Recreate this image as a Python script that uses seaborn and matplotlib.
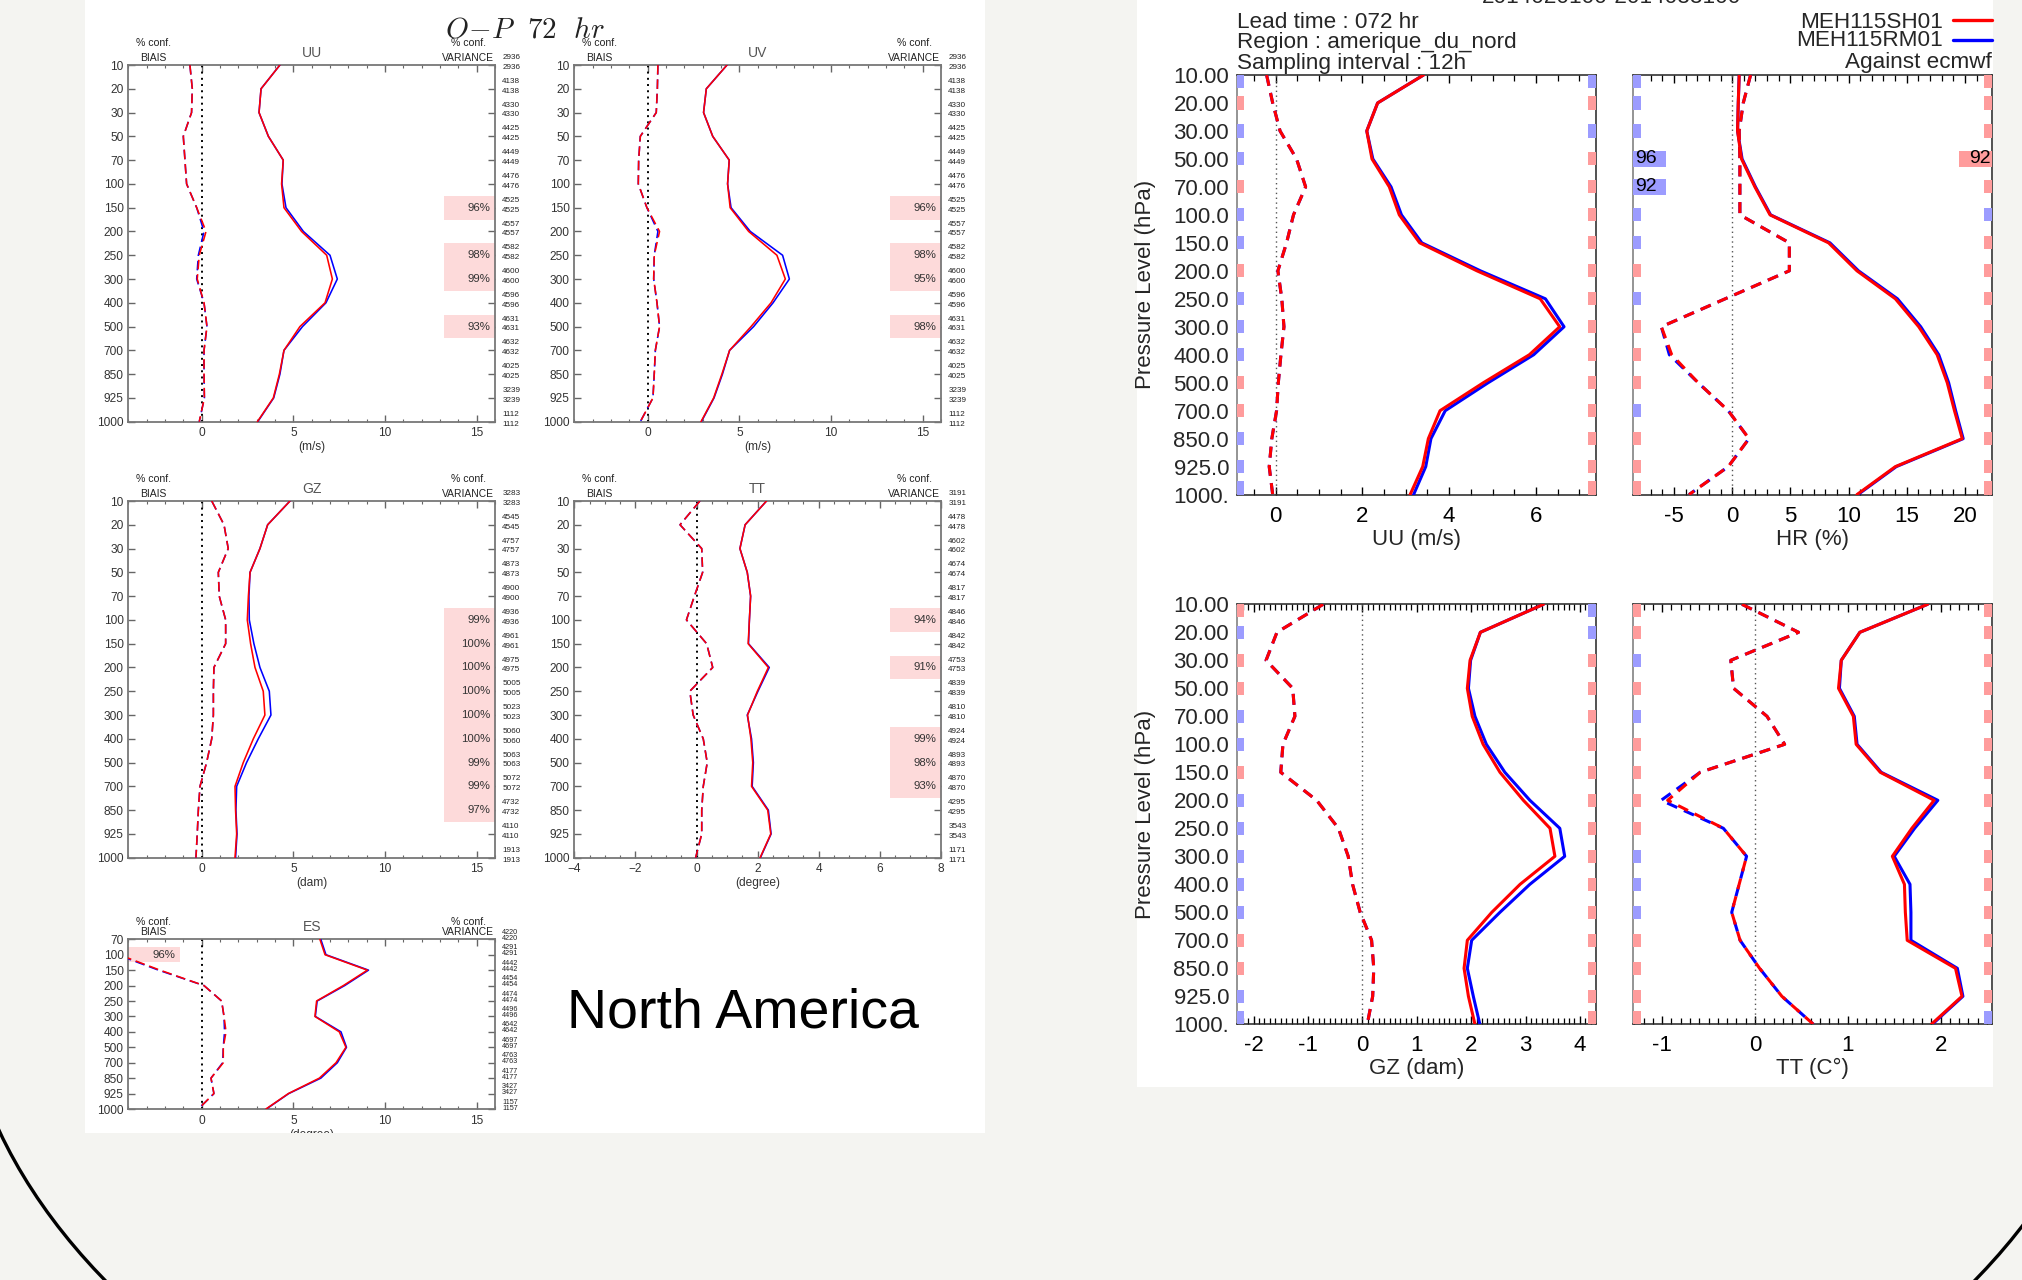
import numpy as np
import matplotlib
matplotlib.use("Agg")
import matplotlib.pyplot as plt
import seaborn as sns
from matplotlib.patches import Rectangle, Arc
from matplotlib.lines import Line2D
from matplotlib.ticker import MultipleLocator, FixedLocator

# ---------------------------------------------------------------- data
levels = [10, 20, 30, 50, 70, 100, 150, 200, 250, 300, 400, 500, 700, 850, 925, 1000]
es_levels = [70, 100, 150, 200, 250, 300, 400, 500, 700, 850, 925, 1000]
rt_level_labels = ["10.00", "20.00", "30.00", "50.00", "70.00", "100.0", "150.0", "200.0",
                   "250.0", "300.0", "400.0", "500.0", "700.0", "850.0", "925.0", "1000."]

# --- left block : O-P 72 hr
op_uu_std_red = [4.27, 3.24, 3.13, 3.64, 4.45, 4.36, 4.49, 5.45, 6.82, 7.13, 6.73, 5.36, 4.49, 4.24, 3.91, 3.04]
op_uu_std_blue = [4.27, 3.24, 3.13, 3.64, 4.45, 4.38, 4.60, 5.55, 7.00, 7.40, 6.78, 5.50, 4.49, 4.27, 3.93, 3.06]
op_uu_bias_red = [-0.64, -0.51, -0.55, -1.00, -0.91, -0.82, -0.27, 0.24, -0.13, -0.24, 0.13, 0.29, 0.13, 0.13, 0.15, -0.13]
op_uu_bias_blue = [-0.64, -0.51, -0.55, -1.00, -0.91, -0.82, -0.27, 0.13, -0.18, -0.27, 0.13, 0.29, 0.13, 0.13, 0.15, -0.13]
op_uu_counts = [2936, 4138, 4330, 4425, 4449, 4476, 4525, 4557, 4582, 4600, 4596, 4631, 4632, 4025, 3239, 1112]
op_uu_var_conf = [0, 0, 0, 0, 0, 0, 96, 0, 98, 99, 0, 93, 0, 0, 0, 0]

op_uv_std_red = [4.33, 3.20, 3.05, 3.55, 4.45, 4.36, 4.50, 5.51, 7.05, 7.51, 6.73, 5.64, 4.47, 4.05, 3.60, 2.91]
op_uv_std_blue = [4.33, 3.20, 3.05, 3.55, 4.45, 4.36, 4.55, 5.60, 7.36, 7.73, 6.84, 5.78, 4.47, 4.08, 3.62, 2.93]
op_uv_bias_red = [0.56, 0.53, 0.47, -0.40, -0.49, -0.51, -0.04, 0.65, 0.36, 0.33, 0.51, 0.65, 0.42, 0.36, 0.29, -0.40]
op_uv_bias_blue = [0.56, 0.53, 0.47, -0.40, -0.49, -0.51, -0.04, 0.56, 0.36, 0.33, 0.51, 0.65, 0.42, 0.36, 0.29, -0.40]
op_uv_counts = [2936, 4138, 4330, 4425, 4449, 4476, 4525, 4557, 4582, 4600, 4596, 4631, 4632, 4025, 3239, 1112]
op_uv_var_conf = [0, 0, 0, 0, 0, 0, 96, 0, 98, 95, 0, 98, 0, 0, 0, 0]

op_gz_std_red = [4.82, 3.60, 3.18, 2.64, 2.55, 2.49, 2.67, 2.91, 3.36, 3.45, 2.82, 2.27, 1.82, 1.85, 1.91, 1.82]
op_gz_std_blue = [4.82, 3.60, 3.18, 2.64, 2.58, 2.60, 2.85, 3.18, 3.69, 3.78, 3.09, 2.45, 1.91, 1.87, 1.93, 1.85]
op_gz_bias_red = [0.55, 1.22, 1.45, 0.91, 0.96, 1.31, 1.31, 0.67, 0.64, 0.64, 0.55, 0.27, -0.09, -0.18, -0.24, -0.31]
op_gz_bias_blue = [0.55, 1.22, 1.45, 0.91, 0.96, 1.31, 1.31, 0.67, 0.64, 0.64, 0.55, 0.27, -0.09, -0.18, -0.24, -0.31]
op_gz_counts = [3283, 4545, 4757, 4873, 4900, 4936, 4961, 4975, 5005, 5023, 5060, 5063, 5072, 4732, 4110, 1913]
op_gz_var_conf = [0, 0, 0, 0, 0, 99, 100, 100, 100, 100, 100, 99, 99, 97, 0, 0]

op_tt_std_red = [2.29, 1.59, 1.42, 1.66, 1.77, 1.73, 1.69, 2.35, 1.99, 1.67, 1.78, 1.84, 1.80, 2.33, 2.43, 2.08]
op_tt_std_blue = [2.29, 1.59, 1.42, 1.66, 1.77, 1.73, 1.70, 2.38, 2.01, 1.66, 1.80, 1.86, 1.82, 2.35, 2.44, 2.09]
op_tt_bias_red = [0.11, -0.54, 0.17, 0.20, -0.07, -0.33, 0.33, 0.53, -0.22, -0.11, 0.22, 0.35, 0.22, 0.17, 0.17, -0.03]
op_tt_bias_blue = [0.11, -0.54, 0.17, 0.20, -0.07, -0.33, 0.33, 0.53, -0.22, -0.11, 0.22, 0.35, 0.22, 0.17, 0.17, -0.03]
op_tt_counts = [3191, 4478, 4602, 4674, 4817, 4846, 4842, 4753, 4839, 4810, 4924, 4893, 4870, 4295, 3543, 1171]
op_tt_var_conf = [0, 0, 0, 0, 0, 94, 0, 91, 0, 0, 99, 98, 93, 0, 0, 0]

op_es_std_red = [6.45, 6.73, 9.04, 7.73, 6.27, 6.18, 7.51, 7.87, 7.33, 6.42, 4.73, 3.51]
op_es_std_blue = [6.50, 6.78, 9.10, 7.80, 6.30, 6.20, 7.60, 7.90, 7.40, 6.50, 4.75, 3.53]
op_es_bias_red = [-6.5, -4.5, -2.27, 0.13, 1.09, 1.22, 1.33, 1.18, 1.18, 0.51, 0.67, -0.18]
op_es_bias_blue = [-6.5, -4.6, -2.35, 0.13, 1.09, 1.22, 1.25, 1.18, 1.15, 0.51, 0.67, -0.18]
op_es_counts = [4220, 4291, 4442, 4454, 4474, 4496, 4642, 4697, 4763, 4177, 3427, 1157]
op_es_var_conf = [0, 0, 0, 0, 0, 0, 0, 0, 0, 0, 0, 0]
op_es_bias_conf = [0, 96, 0, 0, 0, 0, 0, 0, 0, 0, 0, 0]

# --- right block : against ecmwf
rt_uu_std_red = [3.41, 2.35, 2.10, 2.22, 2.62, 2.85, 3.32, 4.64, 6.10, 6.55, 5.85, 4.79, 3.79, 3.52, 3.39, 3.10]
rt_uu_std_blue = [3.41, 2.35, 2.10, 2.24, 2.66, 2.90, 3.37, 4.72, 6.22, 6.65, 5.95, 4.90, 3.91, 3.58, 3.46, 3.18]
rt_uu_bias_red = [-0.21, -0.07, 0.10, 0.48, 0.69, 0.41, 0.25, 0.05, 0.14, 0.19, 0.12, 0.06, 0.02, -0.09, -0.15, -0.07]
rt_uu_bias_blue = [-0.21, -0.07, 0.10, 0.48, 0.69, 0.41, 0.25, 0.05, 0.14, 0.19, 0.12, 0.06, 0.02, -0.09, -0.15, -0.07]
rt_uu_left_cols = list("brbbrbbrbbbrrbbb")
rt_uu_right_cols = list("brbrrrrrrrrrrrrr")

rt_hr_std_red = [0.60, 0.52, 0.46, 0.80, 1.95, 3.25, 8.28, 10.72, 14.02, 16.03, 17.61, 18.48, 19.10, 19.77, 14.02, 10.72]
rt_hr_std_blue = [0.60, 0.52, 0.46, 0.85, 2.00, 3.30, 8.40, 10.85, 14.20, 16.20, 17.75, 18.60, 19.20, 19.85, 14.10, 10.80]
rt_hr_bias_red = [1.58, 0.95, 0.60, 0.66, 0.66, 0.66, 4.91, 4.91, -0.60, -6.09, -5.20, -2.93, -0.34, 1.44, -0.34, -3.71]
rt_hr_bias_blue = [1.58, 0.95, 0.60, 0.66, 0.66, 0.66, 4.91, 4.91, -0.60, -6.09, -5.40, -2.93, -0.34, 1.44, -0.34, -3.71]
rt_hr_left_cols = list("bbbbbbbrbrrrbrrr")
rt_hr_right_cols = list("rrrrrbrrrrrrrrrr")
rt_hr_left_conf = [0, 0, 0, 96, 92, 0, 0, 0, 0, 0, 0, 0, 0, 0, 0, 0]
rt_hr_right_conf = [0, 0, 0, 92, 0, 0, 0, 0, 0, 0, 0, 0, 0, 0, 0, 0]

rt_gz_std_red = [3.33, 2.17, 1.98, 1.93, 2.02, 2.22, 2.53, 2.96, 3.45, 3.54, 2.90, 2.38, 1.93, 1.87, 1.95, 2.07]
rt_gz_std_blue = [3.33, 2.17, 1.99, 1.95, 2.07, 2.28, 2.62, 3.08, 3.63, 3.72, 3.08, 2.53, 2.01, 1.93, 2.04, 2.16]
rt_gz_bias_red = [-0.72, -1.57, -1.77, -1.28, -1.24, -1.46, -1.50, -0.84, -0.44, -0.26, -0.18, -0.04, 0.17, 0.21, 0.19, 0.09]
rt_gz_bias_blue = [-0.72, -1.57, -1.77, -1.28, -1.24, -1.46, -1.50, -0.84, -0.44, -0.26, -0.18, -0.04, 0.17, 0.21, 0.19, 0.09]
rt_gz_left_cols = list("rbrrbbrbbbbbrrbb")
rt_gz_right_cols = list("bbrrrrrrrrrrrrrr")

rt_tt_std_red = [1.86, 1.13, 0.93, 0.90, 1.06, 1.09, 1.35, 1.93, 1.69, 1.48, 1.61, 1.62, 1.64, 2.16, 2.23, 1.90]
rt_tt_std_blue = [1.86, 1.13, 0.93, 0.91, 1.07, 1.10, 1.36, 1.97, 1.72, 1.50, 1.67, 1.68, 1.68, 2.18, 2.24, 1.91]
rt_tt_bias_red = [-0.14, 0.47, -0.26, -0.23, 0.13, 0.32, -0.59, -0.94, -0.34, -0.09, -0.17, -0.25, -0.16, 0.05, 0.29, 0.63]
rt_tt_bias_blue = [-0.14, 0.47, -0.26, -0.23, 0.13, 0.32, -0.59, -1.01, -0.34, -0.09, -0.17, -0.25, -0.16, 0.05, 0.29, 0.63]
rt_tt_left_cols = list("rrbrbrrrrbbbrrrr")
rt_tt_right_cols = list("rrrrrrrrrrrrrrrb")

exp_names = ["MEH115SH01", "MEH115RM01"]

# ---------------------------------------------------------------- style
sns.set_style("white")
plt.rcParams["font.family"] = ["Liberation Sans", "DejaVu Sans"]
plt.rcParams["mathtext.fontset"] = "cm"

RED = "#ff0000"
BLUE = "#0000ff"
PINKBOX = "#fddada"
STRIP = {"b": "#9c9cff", "r": "#ff9c9c"}
BG = "#f4f4f1"

W, H = 2022, 1280
fig = plt.figure(figsize=(W / 100, H / 100), dpi=100, facecolor=BG)


def fr(x0, y0, x1, y1):
    return [x0 / W, 1 - y1 / H, (x1 - x0) / W, (y1 - y0) / H]


# white backing areas of the two pasted figures
fig.add_artist(Rectangle((85 / W, 1 - 1133 / H), 900 / W, 1133 / H, transform=fig.transFigure,
                         facecolor="white", edgecolor="none", zorder=-10))
fig.add_artist(Rectangle((1137 / W, 1 - 1087 / H), 856 / W, 1087 / H, transform=fig.transFigure,
                         facecolor="white", edgecolor="none", zorder=-10))


def prof(ax, vals, color, ls, lw, z):
    idx = np.arange(len(vals))
    sns.lineplot(x=np.asarray(vals, float), y=idx, orient="y", sort=False, estimator=None,
                 color=color, linestyle=ls, linewidth=lw, ax=ax, zorder=z, legend=False)


def left_panel(box, name, unit, xlim, major, minor, ylabels, std_r, std_b, bias_r, bias_b,
               counts, var_conf, bias_conf=None, compact=False):
    ax = fig.add_axes(fr(*box))
    ax.set_facecolor("white")
    n = len(ylabels)
    rng = xlim[1] - xlim[0]
    bw = 0.14 * rng
    for i, c in enumerate(var_conf):
        if c:
            ax.barh(i, bw, left=xlim[1] - bw, height=1.0, color=PINKBOX, linewidth=0, zorder=1)
            ax.text(xlim[1] - 0.0135 * rng, i, f"{c}%", ha="right", va="center",
                    fontsize=8.2, color="#333333", zorder=2)
    if bias_conf is not None:
        for i, c in enumerate(bias_conf):
            if c:
                ax.barh(i, bw, left=xlim[0], height=1.0, color=PINKBOX, linewidth=0, zorder=1)
                ax.text(xlim[0] + 0.1275 * rng, i, f"{c}%", ha="right", va="center",
                        fontsize=8.2, color="#333333", zorder=2)
    ax.axvline(0, color="black", linestyle=(0, (1, 2.2)), linewidth=1.4, zorder=2)
    dash = (0, (6, 3))
    prof(ax, std_b, BLUE, "-", 1.15, 3)
    prof(ax, std_r, RED, "-", 1.15, 4)
    prof(ax, bias_b, BLUE, dash, 1.15, 3)
    prof(ax, bias_r, RED, dash, 1.15, 4)
    ax.set_xlim(*xlim)
    ax.set_ylim(n - 1, 0)
    ax.set_yticks(np.arange(n))
    ax.set_yticklabels([str(v) for v in ylabels])
    ax.xaxis.set_major_locator(FixedLocator(major))
    ax.xaxis.set_minor_locator(MultipleLocator(minor))
    ax.set_xlabel("")
    ax.set_ylabel("")
    ax.tick_params(axis="both", which="both", direction="in", top=True, bottom=True,
                   left=True, right=True, colors="#666666", labelcolor="#333333")
    ax.tick_params(axis="x", which="major", length=5, width=1, labelsize=8.6, pad=4)
    ax.tick_params(axis="x", which="minor", length=2.5, width=0.8)
    ax.tick_params(axis="y", which="major", length=5, width=1, labelsize=8.6, pad=3.5)
    ax.tick_params(axis="y", which="minor", length=0)
    for s in ax.spines.values():
        s.set_color("#777777")
        s.set_linewidth(1.3)
        s.set_visible(True)
    # sample counts on the right
    offs = (5.0, 0.7) if compact else (5.3, -1.7)
    cfs = 5.2 if compact else 5.9
    for i, c in enumerate(counts):
        for o in offs:
            ax.annotate(str(c), xy=(1.0, i), xycoords=ax.get_yaxis_transform(),
                        xytext=(5.2, o), textcoords="offset points", fontsize=cfs,
                        ha="left", va="center", color="#222222", annotation_clip=False)

    def hdr(x, text, dy, fs, color="#222222"):
        ax.annotate(text, xy=(x, 1.0), xycoords="axes fraction", xytext=(0, dy),
                    textcoords="offset points", ha="center", va="center", fontsize=fs,
                    color=color, annotation_clip=False)
    top_dy = 12.8 if compact else 15.6
    hdr(0.069, "% conf.", top_dy, 7.6)
    hdr(0.069, "BIAIS", 5.3, 7.5)
    hdr(0.928, "% conf.", top_dy, 7.6)
    hdr(0.926, "VARIANCE", 5.3, 7.4)
    hdr(0.5, name, 8.8, 10, color="#555555")
    ax.annotate(unit, xy=(0.5, 0.0), xycoords="axes fraction", xytext=(0, -18.5),
                textcoords="offset points", ha="center", va="center", fontsize=8.6,
                color="#333333", annotation_clip=False)
    return ax


left_panel((128.3, 65, 495, 421.7), "UU", "(m/s)", (-4, 16), [0, 5, 10, 15], 1, levels,
           op_uu_std_red, op_uu_std_blue, op_uu_bias_red, op_uu_bias_blue, op_uu_counts, op_uu_var_conf)
left_panel((574.3, 65, 941, 421.7), "UV", "(m/s)", (-4, 16), [0, 5, 10, 15], 1, levels,
           op_uv_std_red, op_uv_std_blue, op_uv_bias_red, op_uv_bias_blue, op_uv_counts, op_uv_var_conf)
left_panel((128.3, 501, 495, 857.7), "GZ", "(dam)", (-4, 16), [0, 5, 10, 15], 1, levels,
           op_gz_std_red, op_gz_std_blue, op_gz_bias_red, op_gz_bias_blue, op_gz_counts, op_gz_var_conf)
left_panel((574.3, 501, 941, 857.7), "TT", "(degree)", (-4, 8), [-4, -2, 0, 2, 4, 6, 8], 0.5, levels,
           op_tt_std_red, op_tt_std_blue, op_tt_bias_red, op_tt_bias_blue, op_tt_counts, op_tt_var_conf)
left_panel((128.3, 939.3, 495, 1109), "ES", "(degree)", (-4, 16), [0, 5, 10, 15], 1, es_levels,
           op_es_std_red, op_es_std_blue, op_es_bias_red, op_es_bias_blue, op_es_counts, op_es_var_conf,
           bias_conf=op_es_bias_conf, compact=True)

fig.text(525 / W, 1 - 37.3 / H, r"$O\!-\!P\ \ 72\ \ hr$", fontsize=21, ha="center",
         va="baseline", color="#222222")
fig.text(567 / W, 1 - 1027 / H, "North America", fontsize=40, ha="left", va="baseline",
         color="black", family=["Liberation Sans Narrow", "Liberation Sans", "DejaVu Sans"])


# ---------------------------------------------------------------- right block
def right_panel(box, xlabel, xlim, major, minor, std_r, std_b, bias_r, bias_b,
                lcols, rcols, lconf=None, rconf=None, show_y=True):
    ax = fig.add_axes(fr(*box))
    ax.set_facecolor("white")
    n = len(std_r)
    ax.axvline(0, color="#555555", linestyle=(0, (1, 2.5)), linewidth=1.0, zorder=1)
    dash = (0, (3.6, 2.4))
    prof(ax, std_b, BLUE, "-", 2.2, 3)
    prof(ax, std_r, RED, "-", 2.2, 4)
    prof(ax, bias_b, BLUE, dash, 2.2, 3)
    prof(ax, bias_r, RED, dash, 2.2, 4)
    ax.set_xlim(*xlim)
    ax.set_ylim(n - 1, 0)
    tr = ax.get_yaxis_transform()
    sw, sh = 0.0215, 0.47
    for side, cols, conf in ((0, lcols, lconf), (1, rcols, rconf)):
        for i, c in enumerate(cols):
            y0 = min(max(i - sh / 2, 0), n - 1 - sh)
            big = conf is not None and conf[i]
            w = 0.092 if big else sw
            hh = 0.57 if big else sh
            if big:
                y0 = i - hh / 2
            x0 = 0 if side == 0 else 1 - w
            ax.add_patch(Rectangle((x0, y0), w, hh, transform=tr, facecolor=STRIP[c],
                                   edgecolor="none", zorder=5))
            if big:
                if side == 0:
                    ax.text(0.004, i, str(conf[i]), transform=tr, ha="left", va="center",
                            fontsize=14, color="black", zorder=6)
                else:
                    ax.text(0.997, i, str(conf[i]), transform=tr, ha="right", va="center",
                            fontsize=14, color="black", zorder=6)
    ax.set_yticks(np.arange(n))
    ax.set_yticklabels(rt_level_labels)
    ax.xaxis.set_major_locator(FixedLocator(major))
    ax.set_xticklabels([str(v) for v in major])
    ax.xaxis.set_minor_locator(MultipleLocator(minor))
    ax.set_ylabel("")
    ax.tick_params(axis="x", which="both", direction="in", top=True, bottom=True, colors="black")
    ax.tick_params(axis="x", which="major", length=6, width=1, labelsize=16, pad=8)
    ax.tick_params(axis="x", which="minor", length=4, width=0.9)
    ax.tick_params(axis="y", which="both", length=0, left=True, labelsize=16, pad=5.5,
                   labelleft=show_y)
    for s in ax.spines.values():
        s.set_color("#222222")
        s.set_linewidth(1.1)
        s.set_visible(True)
    ax.spines["left"].set_color("#777777")
    ax.set_xlabel(xlabel, fontsize=16)
    ax.xaxis.label.set_va("center")
    ax.xaxis.set_label_coords(0.5, -0.106)
    if show_y:
        ax.set_ylabel("Pressure Level (hPa)", fontsize=16)
        ax.yaxis.label.set_va("center")
        ax.yaxis.set_label_coords(-0.255, 0.5)
    return ax


ax_uu = right_panel((1236.7, 75, 1595.7, 494.6), "UU (m/s)", (-0.9, 7.38), [0, 2, 4, 6], 0.5,
                    rt_uu_std_red, rt_uu_std_blue, rt_uu_bias_red, rt_uu_bias_blue,
                    rt_uu_left_cols, rt_uu_right_cols)
ax_hr = right_panel((1633.3, 75, 1991.7, 494.6), "HR (%)", (-8.5, 22.3), [-5, 0, 5, 10, 15, 20], 1,
                    rt_hr_std_red, rt_hr_std_blue, rt_hr_bias_red, rt_hr_bias_blue,
                    rt_hr_left_cols, rt_hr_right_cols, rt_hr_left_conf, rt_hr_right_conf, show_y=False)
ax_gz = right_panel((1236.7, 604.3, 1595.7, 1024.3), "GZ (dam)", (-2.31, 4.29), [-2, -1, 0, 1, 2, 3, 4], 0.1,
                    rt_gz_std_red, rt_gz_std_blue, rt_gz_bias_red, rt_gz_bias_blue,
                    rt_gz_left_cols, rt_gz_right_cols)
ax_tt = right_panel((1633.3, 604.3, 1991.7, 1024.3), "TT (C°)", (-1.31, 2.55), [-1, 0, 1, 2], 0.1,
                    rt_tt_std_red, rt_tt_std_blue, rt_tt_bias_red, rt_tt_bias_blue,
                    rt_tt_left_cols, rt_tt_right_cols, show_y=False)

FS = 16.2
fig.text(1236.7 / W, 1 - 27.9 / H, "Lead time : 072 hr", fontsize=FS, ha="left", va="baseline")
fig.text(1236.7 / W, 1 - 48.2 / H, "Region : amerique_du_nord", fontsize=FS, ha="left", va="baseline")
fig.text(1236.7 / W, 1 - 69.0 / H, "Sampling interval : 12h", fontsize=FS, ha="left", va="baseline")
fig.text(1612 / W, 1 - 3 / H, "2014020100-2014033100", fontsize=FS, ha="center", va="baseline")
fig.text(1943 / W, 1 - 27.9 / H, exp_names[0], fontsize=FS, ha="right", va="baseline")
fig.text(1943 / W, 1 - 46.4 / H, exp_names[1], fontsize=FS, ha="right", va="baseline")
fig.text(1992 / W, 1 - 67.9 / H, "Against ecmwf", fontsize=FS, ha="right", va="baseline")
for yy, col in ((20.4, RED), (39.5, BLUE)):
    fig.add_artist(Line2D([1953 / W, 1992 / W], [1 - yy / H, 1 - yy / H], transform=fig.transFigure,
                          color=col, linewidth=2.4))

# cover below the pasted left figure (crop edge) + slide decoration arc
fig.add_artist(Rectangle((85 / W, 0), 900 / W, (1280 - 1133) / H, transform=fig.transFigure,
                         facecolor=BG, edgecolor="none", zorder=5))
fig.add_artist(Arc((1040 / W, 1 - 960 / H), 2160 / W, 1280 / H, theta1=180, theta2=360,
                   transform=fig.transFigure, color="black", linewidth=2.4, zorder=6))

fig.savefig("out.png", dpi=100, facecolor=BG)
